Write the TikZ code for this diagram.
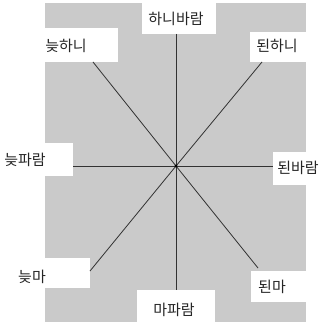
\documentclass[tikz,border=0pt]{standalone}
\usepackage{fontspec}
\newfontfamily\kr{Noto Sans CJK KR}
\definecolor{bggray}{RGB}{202,202,202}
\definecolor{linegray}{RGB}{50,50,50}
\begin{document}
\begin{tikzpicture}[x=1pt,y=-1pt,
  lbl/.style={font=\kr\fontsize{15}{17}\selectfont, inner sep=0pt, text=black!85},
  hole/.style={fill=white},
  axis/.style={draw=linegray, line width=0.8pt}]
\useasboundingbox (0,0) rectangle (322,328);
\fill[white] (0,0) rectangle (322,328);
% gray background
\fill[bggray] (45,3) rectangle (306,322);
% white label areas
\fill[hole] (142,0) rectangle (216,34);
\fill[hole] (40,28) rectangle (118,62);
\fill[hole] (250,32) rectangle (322,62);
\fill[hole] (0,143) rectangle (73,176);
\fill[hole] (273,152) rectangle (322,185);
\fill[hole] (45,258) rectangle (90,288);
\fill[hole] (251,271) rectangle (322,302);
\fill[hole] (137,290) rectangle (215,328);
% labels
\node[lbl] (n)  at (176,19)  {하니바람};
\node[lbl] (nw) at (66,46)   {늦하니};
\node[lbl] (ne) at (277,46)  {된하니};
\node[lbl] (w)  at (25,160)  {늦파람};
\node[lbl] (e)  at (298,168) {된바람};
\node[lbl] (sw) at (32,277)  {늦마};
\node[lbl] (se) at (272,287) {된마};
\node[lbl] (s)  at (174,310) {마파람};
% connector ends
\coordinate (c) at (176,166);
\coordinate (cn) at (176,34);
\coordinate (cs) at (176,290);
\coordinate (cw) at (73,166);
\coordinate (ce) at (273,166);
\coordinate (cnw) at (93,62);
\coordinate (cne) at (262,62);
\coordinate (csw) at (90,271);
\coordinate (cse) at (258,268);
\draw[axis] (cn) -- (cs);
\draw[axis] (cw) -- (ce);
\draw[axis] (cnw) -- (c) -- (cse);
\draw[axis] (cne) -- (c) -- (csw);
\fill[black] (c) circle (1.6);
\end{tikzpicture}
\end{document}
